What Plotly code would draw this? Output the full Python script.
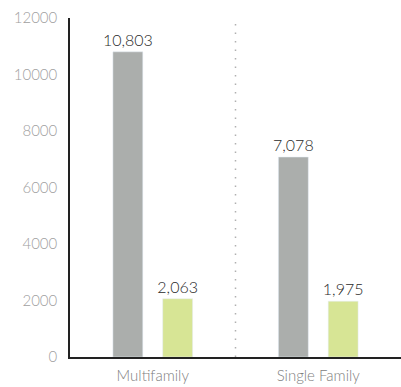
import plotly.graph_objects as go

categories = ["Multifamily", "Single Family"]
series_a = [10803, 7078]
series_b = [2063, 1975]
y_ticks = [0, 2000, 4000, 6000, 8000, 10000, 12000]

def fmt(v):
    return f"{v:,}"

label_font = dict(family="Lato", size=16, color="#2a2a2a", weight=300)

fig = go.Figure()
fig.add_trace(go.Bar(x=categories, y=series_a, marker_color="#abaeac",
                     text=[fmt(v) for v in series_a], textposition="outside",
                     textfont=label_font, constraintext="none",
                     cliponaxis=False, hoverinfo="skip"))
fig.add_trace(go.Bar(x=categories, y=series_b, marker_color="#d7e595",
                     text=[fmt(v) for v in series_b], textposition="outside",
                     textfont=label_font, constraintext="none",
                     cliponaxis=False, hoverinfo="skip"))

fig.add_shape(type="line", xref="x", yref="paper", x0=0.5, x1=0.5, y0=0, y1=1,
              line=dict(color="#b0b0b0", width=1.5, dash="1.5px,7px"))

fig.update_layout(
    width=401, height=387,
    margin=dict(l=70, r=0, t=18, b=30),
    paper_bgcolor="white", plot_bgcolor="white",
    barmode="group", bargap=0.398, bargroupgap=0.4,
    showlegend=False,
    xaxis=dict(range=[-0.5, 1.5], showline=True, linecolor="#222222", linewidth=1.5,
               ticks="", showgrid=False, zeroline=False, ticklabelstandoff=4,
               automargin=False,
               tickfont=dict(family="Lato", size=15, color="#808080", weight=300)),
    yaxis=dict(range=[0, 12000], tickvals=y_ticks, ticktext=[str(v) for v in y_ticks],
               showline=True, linecolor="#222222", linewidth=1.5,
               ticks="", showgrid=False, zeroline=False, ticklabelstandoff=8,
               automargin=False,
               tickfont=dict(family="Lato", size=15, color="#a0a0a0", weight=300)),
)

fig.write_html("out.html")
